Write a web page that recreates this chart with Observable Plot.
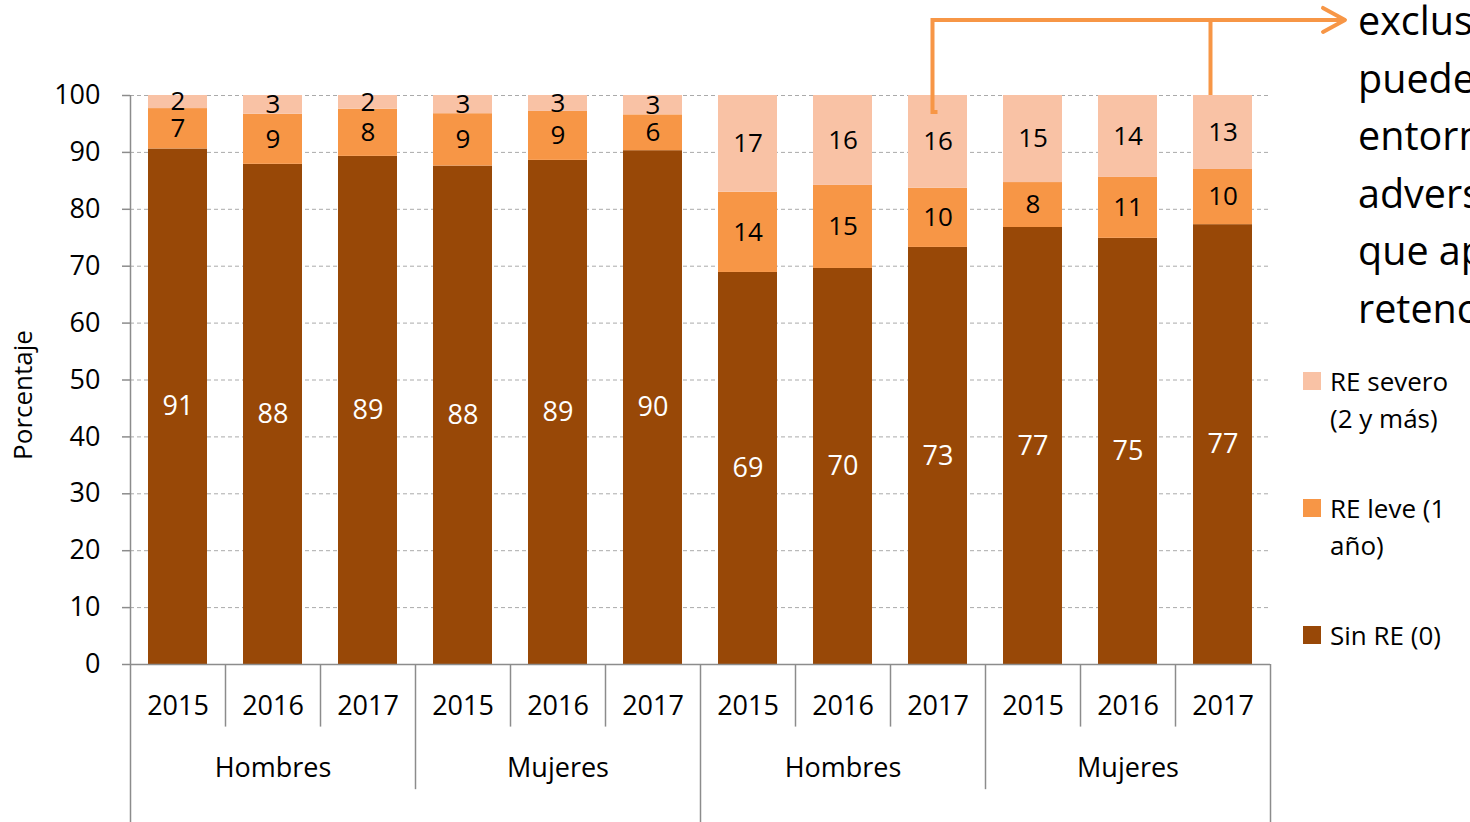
<!DOCTYPE html>
<html><head><meta charset="utf-8">
<script src="https://cdn.jsdelivr.net/npm/d3@7"></script>
<script src="https://cdn.jsdelivr.net/npm/@observablehq/plot@0.6"></script>
<style>
html,body{margin:0;padding:0;background:#fff;overflow:hidden;width:1470px;height:822px}
#chart svg{display:block}
</style></head><body><div id="chart"></div>
<script>
// ---- data ----
const years = ["2015", "2016", "2017"];
const sexes = ["Hombres", "Mujeres"];
const blocks = ["Grupo 1", "Grupo 2"];
const series = ["Sin RE (0)", "RE leve (1 año)", "RE severo (2 y más)"];
const colors = ["#984807", "#F79646", "#F9C2A5"];
const sinRE  = [90.6, 87.9, 89.3, 87.6, 88.6, 90.3, 68.9, 69.6, 73.3, 76.8, 74.9, 77.3];
const leve   = [7.1, 8.8, 8.3, 9.2, 8.6, 6.3, 14.1, 14.6, 10.4, 7.9, 10.7, 9.7];
const severo = [2.3, 3.3, 2.4, 3.2, 2.8, 3.4, 17.0, 15.8, 16.3, 15.3, 14.4, 13.0];
const yTicks = [0, 10, 20, 30, 40, 50, 60, 70, 80, 90, 100];
const noteLines = ["exclusión", "pueden", "entorno", "adverso", "que aporta", "retención"];
const legendItems = [
  {series: "RE severo (2 y más)", lines: ["RE severo", "(2 y más)"]},
  {series: "RE leve (1 año)", lines: ["RE leve (1", "año)"]},
  {series: "Sin RE (0)", lines: ["Sin RE (0)"]}
];
const arrowLevels = {top: 113.2, hook: 97, bar: 100};

// ---- derived tables ----
const bars = [];
blocks.forEach(b => sexes.forEach(s => years.forEach(y => bars.push({key: `${b}|${s}|${y}`, block: b, sex: s, year: y}))));
const keys = bars.map(d => d.key);
const rows = [];
bars.forEach((b, i) => {
  rows.push({key: b.key, series: series[0], value: sinRE[i]});
  rows.push({key: b.key, series: series[1], value: leve[i]});
  rows.push({key: b.key, series: series[2], value: severo[i]});
});
const groups = bars.filter(d => d.year === years[1]);
const levelBottom = [0, -11, -22, -32];
const seps = d3.range(13).map(i => ({
  key: keys[Math.min(i, keys.length - 1)],
  right: i === keys.length,
  level: i % 6 === 0 ? 3 : (i % 3 === 0 ? 2 : 1),
  top: i === 0 ? 100 : 0
}));

const FONT = "'Open Sans', sans-serif";
const GREY = "#8c8c8c";

const chart = Plot.plot({
  width: 1470, height: 822,
  marginTop: 95, marginBottom: 158, marginLeft: 130, marginRight: 200,
  style: {fontFamily: FONT, fontSize: "27px", background: "white", color: "black"},
  x: {domain: keys, paddingInner: 0.38, paddingOuter: 0.19, axis: null},
  y: {domain: [0, 100], axis: null},
  color: {domain: series, range: colors},
  marks: [
    Plot.gridY(yTicks.filter(t => t > 0), {stroke: "#aaaaaa", strokeOpacity: 1, strokeWidth: 1, strokeDasharray: "4,3"}),
    Plot.barY(rows, {x: "key", y: "value", fill: "series"}),
    Plot.ruleY([0], {stroke: GREY, strokeWidth: 1.5}),
    Plot.axisY(yTicks, {tickSize: 8, tickPadding: 22, stroke: GREY, strokeWidth: 1.5, fill: "black", fontSize: 27, label: null}),
    Plot.ruleX(seps.filter(d => !d.right), {x: "key", y1: "top", y2: d => levelBottom[d.level], dx: -47.5, stroke: GREY, strokeWidth: 1.5}),
    Plot.ruleX(seps.filter(d => d.right), {x: "key", y1: "top", y2: d => levelBottom[d.level], dx: 47.5, stroke: GREY, strokeWidth: 1.5}),
    Plot.text(rows, Plot.filter(d => d.series === series[0],
      Plot.stackY({x: "key", y: "value", text: d => Math.round(d.value), fill: "white", fontSize: 27}))),
    Plot.text(rows, Plot.filter(d => d.series !== series[0],
      Plot.stackY({x: "key", y: "value", text: d => Math.round(d.value), fill: "black", fontSize: 26}))),
    Plot.text(bars, {x: "key", y: d => 0, text: "year", dy: 42, fill: "black", fontSize: 27}),
    Plot.text(groups, {x: "key", y: d => 0, text: "sex", dy: 104, fill: "black", fontSize: 27})
  ]
});
document.getElementById("chart").appendChild(chart);

// ---- annotations (positions from the plot's scales) ----
const svg = d3.select(chart);
const xs = chart.scale("x"), ys = chart.scale("y"), cs = chart.scale("color");
const cx = k => xs.apply(k) + xs.bandwidth / 2;
const noteX = 1358;
const yTop = ys.apply(arrowLevels.top);
const xa = cx(keys[8]) - 5;
const xb = cx(keys[11]) - 12;
const tip = noteX - 13;
const orange = cs.apply(series[1]);
const g = svg.append("g").attr("fill", "none").attr("stroke", orange).attr("stroke-width", 4);
g.append("path").attr("d", `M${cx(keys[8])},${ys.apply(arrowLevels.hook)}H${xa}V${yTop}H${tip}`).attr("stroke-linejoin", "miter");
g.append("path").attr("d", `M${xb},${ys.apply(arrowLevels.bar)}V${yTop}`);
g.append("path").attr("d", `M${tip - 22},${yTop - 12}L${tip},${yTop}L${tip - 22},${yTop + 12}`).attr("stroke-linecap", "round").attr("stroke-linejoin", "round");

svg.append("g").attr("font-family", FONT).attr("font-size", 39.5).attr("fill", "black").attr("text-anchor", "start")
  .selectAll("text").data(noteLines).join("text")
  .attr("x", noteX).attr("y", (d, i) => 35 + i * 57.5).text(d => d);

// legend
const lg = svg.append("g").attr("font-family", FONT).attr("font-size", 26).attr("fill", "black").attr("text-anchor", "start");
legendItems.forEach((it, i) => {
  const y0 = 372 + i * 127;
  lg.append("rect").attr("x", 1303).attr("y", y0).attr("width", 18).attr("height", 18).attr("fill", cs.apply(it.series));
  it.lines.forEach((t, j) => lg.append("text").attr("x", 1330).attr("y", y0 + 18.5 + j * 37).text(t));
});

// y label
svg.append("text").attr("font-family", FONT).attr("font-size", 26).attr("fill", "black")
  .attr("text-anchor", "middle").attr("transform", "translate(32,395) rotate(-90)").text("Porcentaje");
</script></body></html>
